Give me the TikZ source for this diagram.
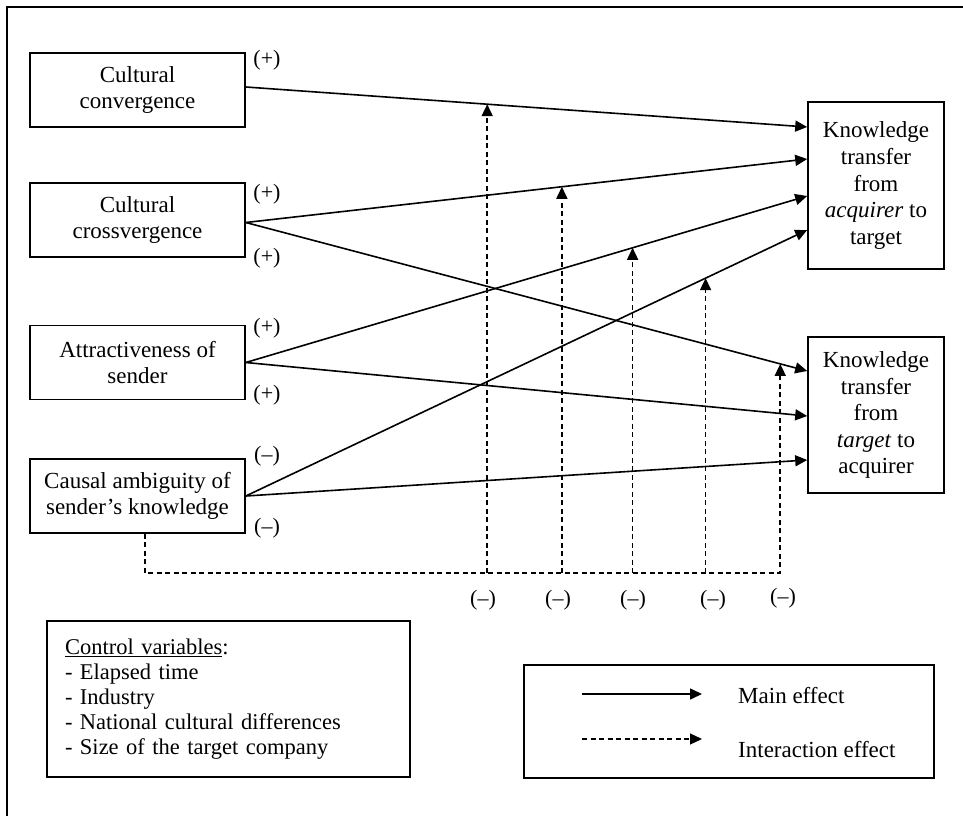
\documentclass[tikz,border=0pt]{standalone}
\usepackage{fontspec}
\setmainfont{Liberation Serif}
\usetikzlibrary{arrows.meta,calc}
\begin{document}
\begin{tikzpicture}[x=1pt,y=-1pt,
  box/.style={draw,line width=1.6pt,align=center,inner sep=2pt,font=\fontsize{23}{26.5}\selectfont},
  lbox/.style={box,minimum width=215pt,minimum height=74pt},
  main/.style={line width=1.6pt,-{Triangle[length=12pt,width=11pt]}},
  inter/.style={main,dash pattern=on 5pt off 3.5pt},
  sign/.style={font=\fontsize{22}{24}\selectfont,inner sep=0pt},
  txt/.style={font=\fontsize{23}{26}\selectfont,inner sep=0pt}]
\useasboundingbox (0,0) rectangle (963,816);
% frame
\draw[line width=2pt] (7,816) -- (7,7) -- (963,7);
% boxes
\node[lbox] (cc) at (137.5,90) {Cultural\\convergence};
\node[lbox] (cx) at (137.5,220) {Cultural\\crossvergence};
\node[lbox] (at) at (137.5,362.5) {Attractiveness of\\sender};
\node[lbox] (ca) at (137.5,496) {Causal ambiguity of\\sender’s knowledge};
\node[box,minimum width=136pt,minimum height=167pt] (k1) at (876,185.5) {Knowledge\\transfer\\from\\\textit{acquirer} to\\target};
\node[box,minimum width=136pt,minimum height=156pt] (k2) at (876,415) {Knowledge\\transfer\\from\\\textit{target} to\\acquirer};
% main effects
\draw[main] ([yshift=3pt]cc.east) -- coordinate[pos=0.430] (m1) ([yshift=58.5pt]k1.west);
\draw[main] ([yshift=-2.5pt]cx.east) -- coordinate[pos=0.563] (m2) ([yshift=26.5pt]k1.west);
\draw[main] ([yshift=-2.5pt]cx.east) -- coordinate[pos=0.952] (m5) ([yshift=44pt]k2.west);
\draw[main] (at.east) -- coordinate[pos=0.689] (m3) ([yshift=-10.5pt]k1.west);
\draw[main] (at.east) -- ([yshift=-1pt]k2.west);
\draw[main] (ca.east) -- coordinate[pos=0.819] (m4) ([yshift=-44.5pt]k1.west);
\draw[main] (ca.east) -- ([yshift=-45pt]k2.west);
% interaction effects
\coordinate (bl) at (0,573);
\draw[inter] ([xshift=7.5pt]ca.south) |- (m5 |- bl) -- (m5);
\foreach \i in {1,2,3,4} {\draw[inter] (m\i |- bl) -- (m\i);}
% signs
\node[sign] (s1) at (267,60) {(+)};
\node[sign] (s2) at (267,194) {(+)};
\node[sign] (s3) at (267,258) {(+)};
\node[sign] (s4) at (267,328) {(+)};
\node[sign] (s5) at (267,395) {(+)};
\node[sign] (s6) at (267,456) {(–)};
\node[sign] (s7) at (267,528) {(–)};
\node[sign] (s8) at (483,600) {(–)};
\node[sign] (s9) at (558,600) {(–)};
\node[sign] (s10) at (633,600) {(–)};
\node[sign] (s11) at (713,600) {(–)};
\node[sign] (s12) at (783,598) {(–)};
% control variables
\node[draw,line width=1.6pt,minimum width=363pt,minimum height=156pt,text width=327pt,
  align=left,inner xsep=18pt,inner ysep=4pt,font=\fontsize{22.5}{25}\selectfont] (ctrl) at (228.5,699)
  {\underline{Control variables}:\\- Elapsed time\\- Industry\\- National cultural differences\\- Size of the target company};
% legend
\node[draw,line width=1.6pt,minimum width=410pt,minimum height=113pt] (leg) at (729,721.5) {};
\coordinate (la1) at (582,694);
\coordinate (la2) at (702,694);
\coordinate (lb1) at (582,739);
\coordinate (lb2) at (702,739);
\draw[main] (la1) -- (la2);
\draw[inter,line width=1.2pt] (lb1) -- (lb2);
\node[txt,anchor=base west] (le1) at (738,703) {Main effect};
\node[txt,anchor=base west] (le2) at (738,757) {Interaction effect};
\end{tikzpicture}
\end{document}
